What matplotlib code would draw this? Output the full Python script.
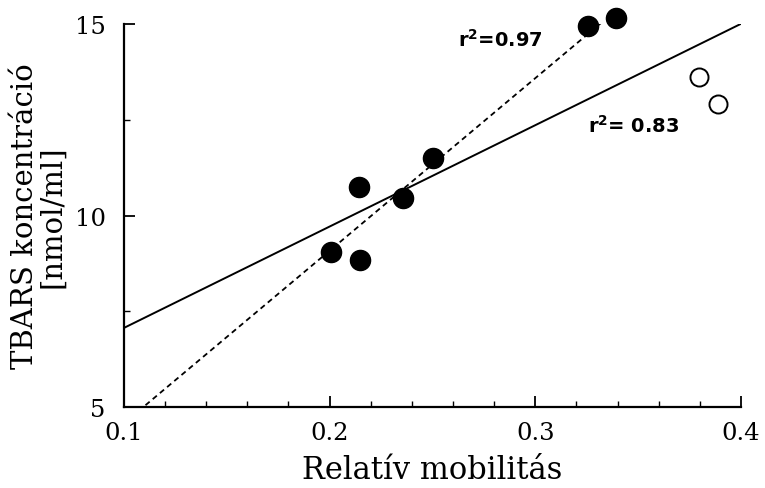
import numpy as np
import matplotlib
matplotlib.use("Agg")
import matplotlib.pyplot as plt
from matplotlib.ticker import MultipleLocator

# Data
filled_x = [0.2006, 0.2147, 0.2142, 0.2356, 0.2502, 0.3256, 0.3392]
filled_y = [9.05, 8.84, 10.74, 10.46, 11.50, 14.95, 15.16]
open_x = [0.3795, 0.3888]
open_y = [13.62, 12.91]

x_ticks = [0.1, 0.2, 0.3, 0.4]
x_ticklabels = ['0.1', '0.2', '0.3', '0.4']
y_ticks = [5, 10, 15]
y_ticklabels = ['5', '10', '15']

x_label = "Relatív mobilitás"
y_label = "TBARS koncentráció\n[nmol/ml]"
label_all = r"$\mathbf{r^{2}}$= 0.83"
label_filled = r"$\mathbf{r^{2}}$=0.97"

plt.rcParams['font.family'] = ['DejaVu Serif']
plt.rcParams['mathtext.fontset'] = 'dejavusans'

fig = plt.figure(figsize=(7.65, 4.89), dpi=100)
ax = fig.add_axes([0.162, 0.1656, 0.8065, 0.783])

# regression lines
fx = np.array(filled_x); fy = np.array(filled_y)
ax_all = np.concatenate([fx, open_x]); ay_all = np.concatenate([fy, open_y])
p_all = np.polyfit(ax_all, ay_all, 1)
p_fil = np.polyfit(fx, fy, 1)

xs = np.array([0.1, 0.4])
ax.plot(xs, np.polyval(p_all, xs), color='black', lw=1.4, zorder=2)
xd = np.array([0.1, fx.max()])
ax.plot(xd, np.polyval(p_fil, xd), color='black', lw=1.3, ls=(0, (3, 2.2)), zorder=2)

ax.plot(filled_x, filled_y, 'o', color='black', ms=14.5, zorder=3, clip_on=False)
ax.plot(open_x, open_y, 'o', mfc='white', mec='black', mew=1.4, ms=13, zorder=3, clip_on=False)

ax.text(0.2624, 14.43, label_filled, fontsize=14, fontweight='bold', family='DejaVu Sans')
ax.text(0.3256, 12.2, label_all, fontsize=14, fontweight='bold', family='DejaVu Sans')

ax.set_xlim(0.1, 0.4)
ax.set_ylim(5, 15)
ax.set_xticks(x_ticks)
ax.set_xticklabels(x_ticklabels)
ax.set_yticks(y_ticks)
ax.set_yticklabels(y_ticklabels)
ax.xaxis.set_minor_locator(MultipleLocator(0.02))
ax.yaxis.set_minor_locator(MultipleLocator(2.5))
ax.tick_params(which='major', direction='in', length=8, width=1.3, labelsize=17.5)
ax.tick_params(axis='x', which='major', pad=10)
ax.tick_params(axis='y', which='major', pad=13)
ax.tick_params(which='minor', direction='in', length=4, width=1.0)
ax.spines['top'].set_visible(False)
ax.spines['right'].set_visible(False)
ax.spines['left'].set_linewidth(1.6)
ax.spines['bottom'].set_linewidth(1.6)

ax.set_xlabel(x_label, fontsize=22, labelpad=7)
ax.set_ylabel(y_label, fontsize=21, labelpad=6, linespacing=1.0)

fig.savefig("out.png", dpi=100)
